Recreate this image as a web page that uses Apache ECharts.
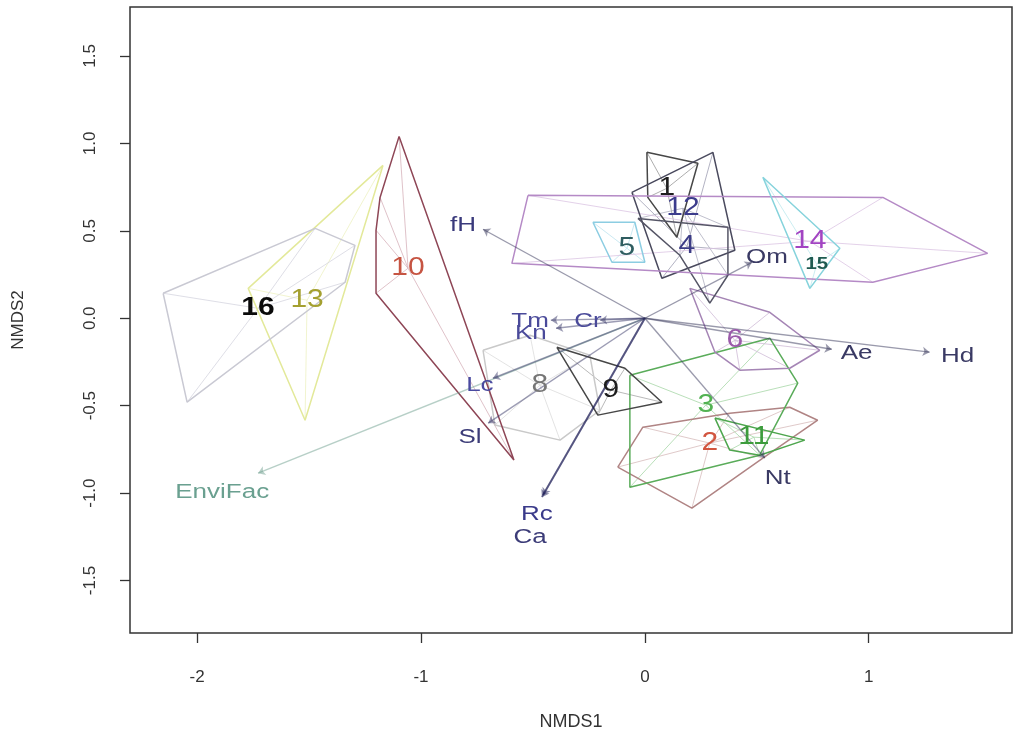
<!DOCTYPE html>
<html>
<head>
<meta charset="utf-8">
<script src="https://cdn.jsdelivr.net/npm/echarts@6/dist/echarts.min.js"></script>
<style>
  html, body { margin: 0; padding: 0; background: #ffffff; }
  #chart { width: 1017px; height: 742px; }
</style>
</head>
<body>
<div id="chart"></div>
<script>
// NMDS ordination: group hulls, spiders from group centroids, and fitted environmental vectors

const xTicks = [-2, -1, 0, 1];
const yTicks = [-1.5, -1.0, -0.5, 0.0, 0.5, 1.0, 1.5];

// group ids and their centroids (NMDS1, NMDS2)
const groupIds = ['1', '2', '3', '4', '5', '6', '8', '9', '10', '11', '12', '13', '14', '15', '16'];
const centroidX = [0.098, 0.29, 0.272, 0.188, -0.08, 0.402, -0.469, -0.152, -1.058, 0.487, 0.17, -1.509, 0.737, 0.768, -1.728];
const centroidY = [0.743, -0.714, -0.497, 0.411, 0.40, -0.126, -0.383, -0.411, 0.286, -0.68, 0.629, 0.103, 0.44, 0.309, 0.057];

// convex hull vertices of each group, same order as groupIds
const groupHulls = [
  [[0.009, 0.949], [0.237, 0.886], [0.143, 0.463], [0.013, 0.691]],
  [[-0.121, -0.851], [-0.009, -0.623], [0.379, -0.543], [0.647, -0.509], [0.772, -0.583], [0.527, -0.80], [0.21, -1.086]],
  [[-0.067, -0.326], [0.558, -0.114], [0.683, -0.371], [0.513, -0.783], [-0.067, -0.966]],
  [[-0.058, 0.72], [0.304, 0.949], [0.402, 0.389], [0.076, 0.229]],
  [[-0.232, 0.549], [-0.045, 0.549], [0.0, 0.32], [-0.147, 0.32]],
  [[0.201, 0.171], [0.558, 0.034], [0.781, -0.183], [0.647, -0.286], [0.424, -0.297], [0.313, -0.194]],
  [[-0.723, -0.183], [-0.513, -0.097], [-0.246, -0.211], [-0.201, -0.526], [-0.379, -0.697], [-0.67, -0.611]],
  [[-0.393, -0.166], [-0.089, -0.286], [0.076, -0.48], [-0.21, -0.554]],
  [[-1.098, 1.04], [-0.585, -0.811], [-1.201, 0.143], [-1.201, 0.503], [-1.183, 0.691]],
  [[0.313, -0.571], [0.714, -0.697], [0.513, -0.783], [0.379, -0.754]],
  [[-0.031, 0.571], [0.371, 0.52], [0.371, 0.246], [0.29, 0.086], [0.156, 0.36]],
  [[-1.17, 0.874], [-1.772, 0.171], [-1.518, -0.583]],
  [[-0.522, 0.703], [1.063, 0.691], [1.531, 0.371], [1.018, 0.206], [-0.594, 0.314]],
  [[0.527, 0.806], [0.871, 0.40], [0.737, 0.171]],
  [[-2.152, 0.143], [-1.473, 0.514], [-1.295, 0.417], [-1.339, 0.206], [-2.045, -0.48]]
];

// fitted environmental vectors: arrow tips and label anchors
const vectorNames = ['EnviFac', 'fH', 'Om', 'Tm', 'Cr', 'Kn', 'Lc', 'Sl', 'Ca', 'Rc', 'Ae', 'Hd', 'Nt'];
const vectorX = [-1.728, -0.723, 0.478, -0.42, -0.20, -0.397, -0.679, -0.70, -0.455, -0.46, 0.835, 1.272, 0.536];
const vectorY = [-0.886, 0.509, 0.32, -0.011, -0.011, -0.057, -0.343, -0.60, -1.011, -1.023, -0.177, -0.194, -0.80];
const vectorLabelX = [-1.888, -0.8125, 0.545, -0.513, -0.254, -0.509, -0.737, -0.781, -0.513, -0.482, 0.946, 1.397, 0.594];
const vectorLabelY = [-0.994, 0.531, 0.349, -0.017, -0.017, -0.086, -0.383, -0.68, -1.251, -1.12, -0.2, -0.217, -0.914];

// styling per group
const hullColors = ['#474747', '#b08484', '#5aac5a', '#4a4a5e', '#8ccde2', '#a585b5', '#c9c9c9', '#474747',
                    '#8e4656', '#4ea64e', '#555566', '#e3e99a', '#b58ac6', '#86d3dc', '#c9c9d3'];
const spiderColors = ['#9a9a9a', '#d8bcbc', '#a8d8a8', '#a0a0b4', '#bfe4ef', '#d0bcd8', '#dcdcdc', '#a8a8a8',
                      '#d8b4bc', '#a8d8a8', '#b0b0c0', '#eef2c4', '#dcc6e4', '#bfe9ee', '#d6d6e0'];
const labelColors = ['#1e1e1e', '#d2553f', '#52b252', '#3c3c86', '#2f5d60', '#9a5aaa', '#767676', '#1e1e1e',
                     '#c65442', '#3c9c3c', '#3c3c8c', '#a4a030', '#a244c2', '#1f5a50', '#0a0a0a'];
const vectorColors = ['#6f9f90', '#36365a', '#36365a', '#3a3a6a', '#3a3a6a', '#3a3a6a', '#3a3a6a', '#3a3a6a',
                      '#1c1c55', '#1c1c55', '#36365a', '#36365a', '#36365a'];
const vectorTextColors = ['#6aa090', '#3a3a7c', '#3a3a64', '#4a4a9a', '#4a4a9a', '#4a4a9a', '#4a4aa0', '#3c3c78',
                          '#3c3c78', '#3a3a8a', '#3a3a64', '#3a3a64', '#3a3a64'];

const FONT = 'Liberation Sans, Arial, sans-serif';

const series = [];

// spider lines from centroid to hull vertices
groupIds.forEach((g, i) => {
  series.push({
    type: 'lines',
    coordinateSystem: 'cartesian2d',
    z: 1,
    silent: true,
    lineStyle: { color: spiderColors[i], width: 0.9, opacity: 0.9 },
    data: groupHulls[i].map(p => ({ coords: [[centroidX[i], centroidY[i]], p] }))
  });
});

// hull outlines
groupIds.forEach((g, i) => {
  const pts = groupHulls[i].concat([groupHulls[i][0]]);
  series.push({
    type: 'line',
    z: 2,
    silent: true,
    showSymbol: false,
    symbol: 'none',
    lineStyle: { color: hullColors[i], width: 1.5 },
    data: pts
  });
});

// environmental vectors as arrows from the origin
series.push({
  type: 'lines',
  coordinateSystem: 'cartesian2d',
  z: 3,
  silent: true,
  symbol: ['none', 'arrow'],
  symbolSize: 7,
  data: vectorNames.map((n, i) => ({
    coords: [[0, 0], [vectorX[i], vectorY[i]]],
    lineStyle: { color: vectorColors[i], width: (n === 'Rc' || n === 'Ca') ? 1.9 : 1.4 }
  }))
});

// text drawn as custom elements so it can be widened like the R device output
function textSeries(z, xs, ys, texts, colors, sizeOf, weightOf, stretch) {
  return {
    type: 'custom',
    z: z,
    silent: true,
    data: xs.map((x, i) => [x, ys[i], i]),
    encode: { x: 0, y: 1 },
    renderItem: (params, api) => {
      const i = api.value(2);
      const pt = api.coord([api.value(0), api.value(1)]);
      return {
        type: 'text',
        x: pt[0],
        y: pt[1],
        scaleX: stretch,
        style: {
          text: texts[i],
          fill: colors[i],
          fontFamily: FONT,
          fontSize: sizeOf(i),
          fontWeight: weightOf(i),
          align: 'center',
          verticalAlign: 'middle'
        }
      };
    }
  };
}

series.push(textSeries(5, vectorLabelX, vectorLabelY, vectorNames, vectorTextColors,
  () => 20, () => 'normal', 1.3));

series.push(textSeries(6, centroidX, centroidY, groupIds, labelColors,
  i => groupIds[i] === '15' ? 17 : 25,
  i => (groupIds[i] === '16' || groupIds[i] === '15') ? 'bold' : 'normal', 1.2));

const chart = echarts.init(document.getElementById('chart'), null, { renderer: 'canvas' });
chart.setOption({
  animation: false,
  backgroundColor: '#ffffff',
  grid: {
    left: 130, right: 5, top: 7, bottom: 109,
    outerBoundsMode: 'none',
    containLabel: false,
    show: true, borderColor: '#333333', borderWidth: 1.5, backgroundColor: 'transparent'
  },
  xAxis: {
    type: 'value',
    min: -2.3, max: 1.64,
    name: 'NMDS1',
    nameLocation: 'middle',
    nameGap: 80,
    nameTextStyle: { fontFamily: FONT, fontSize: 18, color: '#333' },
    axisLine: { show: false, onZero: false },
    splitLine: { show: false },
    axisTick: { show: true, customValues: xTicks, length: 10, lineStyle: { color: '#333', width: 1.3 } },
    axisLabel: {
      customValues: xTicks, margin: 36, fontFamily: FONT, fontSize: 17, color: '#333',
      formatter: v => String(v)
    }
  },
  yAxis: {
    type: 'value',
    min: -1.8, max: 1.78,
    name: 'NMDS2',
    nameLocation: 'middle',
    nameGap: 103,
    nameTextStyle: { fontFamily: FONT, fontSize: 17, color: '#333' },
    axisLine: { show: false, onZero: false },
    splitLine: { show: false },
    axisTick: { show: true, customValues: yTicks, length: 10, lineStyle: { color: '#333', width: 1.3 } },
    axisLabel: {
      customValues: yTicks, margin: 31, rotate: 90, fontFamily: FONT, fontSize: 17, color: '#333',
      formatter: v => v.toFixed(1)
    }
  },
  series: series
});
</script>
</body>
</html>
